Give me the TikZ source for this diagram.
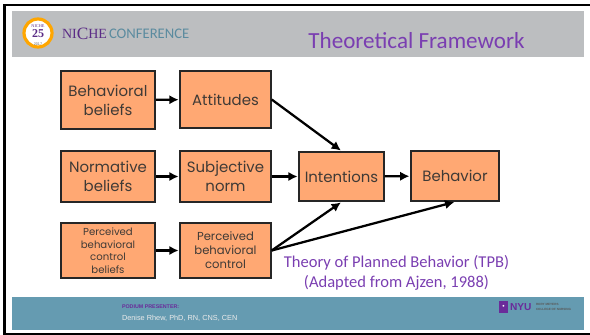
\documentclass[tikz,border=0pt]{standalone}
\usepackage{fontspec}
\setmainfont{Poppins}
\newfontfamily\titlefont{Carlito}
\newfontfamily\footfont{Liberation Sans}
\newfontfamily\nichefont{Liberation Serif}
\usetikzlibrary{arrows.meta}
\definecolor{headgray}{HTML}{BCBEC0}
\definecolor{foottal}{HTML}{659BB1}
\definecolor{boxfill}{HTML}{FFA873}
\definecolor{boxtext}{HTML}{3F3A36}
\definecolor{tpbpurple}{HTML}{7A3EB1}
\definecolor{nichepurple}{HTML}{5B2C86}
\definecolor{nycpurple}{HTML}{6A2C9A}

\begin{document}
\begin{tikzpicture}[
    x=0.75pt, y=-0.75pt,
    box/.style={draw=black!85, line width=1.3pt, fill=boxfill, text=boxtext, align=center, inner sep=0pt, font=\fontsize{11.2}{14.3}\selectfont},
    small box/.style={box, font=\fontsize{8.7}{10.5}\selectfont},
    tiny box/.style={box, font=\fontsize{7.6}{9.4}\selectfont},
    wide/.style={minimum width=70.5pt},
    narrow/.style={minimum width=68pt},
    link/.style={-{Latex[length=7pt,width=7pt]}, line width=1.7pt, shorten >=0.5pt},
    band/.style={inner sep=0pt, outer sep=0pt}]

\useasboundingbox (0,0) rectangle (590,335);

% Frame
\fill[black] (3,4) rectangle (590,6.5);
\fill[black] (3,4) rectangle (6,335);
\fill[black] (3,333) rectangle (590,335);

% Header and footer bands
\fill[headgray] (12,11) rectangle (584,57);
\fill[foottal] (12,297) rectangle (584,330);

% Logo
\node[circle, band, fill=white, draw=orange!70!yellow, line width=2.4pt, minimum size=21pt] (logo) at (38,33) {};
\node[band, text=nichepurple, font=\fontsize{3.2}{3.2}\selectfont\nichefont] (logoname) at (38,26) {NICHE};
\node[band, text=nichepurple, font=\fontsize{9}{9}\selectfont\bfseries\nichefont] (logoage) at (38,33.5) {25};
\node[band, text=black!60, font=\fontsize{2.8}{2.8}\selectfont\footfont] (logoyear) at (38,44) {2017};
\node[band, anchor=west, text=nichepurple, font=\fontsize{10.5}{10.5}\selectfont\nichefont] (niche) at (62,34) {NI\raisebox{-0.5pt}{\fontsize{13}{13}\selectfont C}HE};
\node[band, anchor=west, text=foottal!90!black, font=\fontsize{11}{11}\selectfont\titlefont] (conference) at (109,34) {CONFERENCE};

% Title
\node[band, text=tpbpurple, font=\fontsize{17.3}{17.3}\selectfont\titlefont] (title) at (416.5,41) {Theoretical Framework};

% First column
\node[box, wide, minimum height=43pt] (bbeliefs) at (108,100) {Behavioral\\beliefs};
\node[box, wide, minimum height=38pt] (nbeliefs) at (108,176.5) {Normative\\beliefs};
\node[tiny box, wide, minimum height=41pt] (cbeliefs) at (108,250.5) {Perceived\\behavioral\\control\\beliefs};

% Second column
\node[box, narrow, minimum height=43pt] (attitudes) at (225.5,99.5) {Attitudes};
\node[box, narrow, minimum height=38pt] (norm) at (225.5,176.5) {Subjective\\norm};
\node[small box, narrow, minimum height=41pt] (control) at (225.5,250.5) {Perceived\\behavioral\\control};

% Outcomes
\node[box, minimum width=63.5pt, minimum height=37pt] (intentions) at (341.5,176.5) {Intentions};
\node[box, minimum width=66pt, minimum height=37.5pt] (behavior) at (455,176) {Behavior};

% Links
\draw[link] (bbeliefs) -- (attitudes);
\draw[link] (nbeliefs) -- (norm);
\draw[link] (cbeliefs) -- (control);
\draw[link] (attitudes.east) -- (intentions.north);
\draw[link] (norm) -- (intentions);
\draw[link] (control.east) -- (intentions.south);
\draw[link] (intentions) -- (behavior);
\draw[link] (control.east) -- (behavior.south);

% Caption
\node[band, text=tpbpurple, align=center, font=\fontsize{12.4}{15}\selectfont\titlefont] (caption) at (396.5,273) {Theory of Planned Behavior (TPB)\\(Adapted from Ajzen, 1988)};

% Footer text
\node[band, anchor=west, text=nycpurple, font=\fontsize{4}{4}\selectfont\bfseries\footfont] (podium) at (122,307) {PODIUM PRESENTER:};
\node[band, anchor=west, text=white!92!black, font=\fontsize{5.5}{5.5}\selectfont\footfont] (presenter) at (122,318) {Denise Rhew, PhD, RN, CNS, CEN};

% NYU mark
\node[band, fill=nycpurple, minimum width=6.5pt, minimum height=9pt] (nyubox) at (503.5,307) {};
\node[band, text=white, font=\fontsize{5}{5}\selectfont\footfont] (torch) at (503.5,307) {\textbullet};
\node[band, anchor=west, text=nycpurple, font=\fontsize{7.6}{7.6}\selectfont\bfseries\footfont] (nyu) at (510,307) {NYU};
\node[band, anchor=west, align=left, text=black!65, font=\fontsize{2.3}{4.4}\selectfont\bfseries\footfont] (school) at (536,307) {RORY MEYERS\\COLLEGE OF NURSING};

\end{tikzpicture}
\end{document}
